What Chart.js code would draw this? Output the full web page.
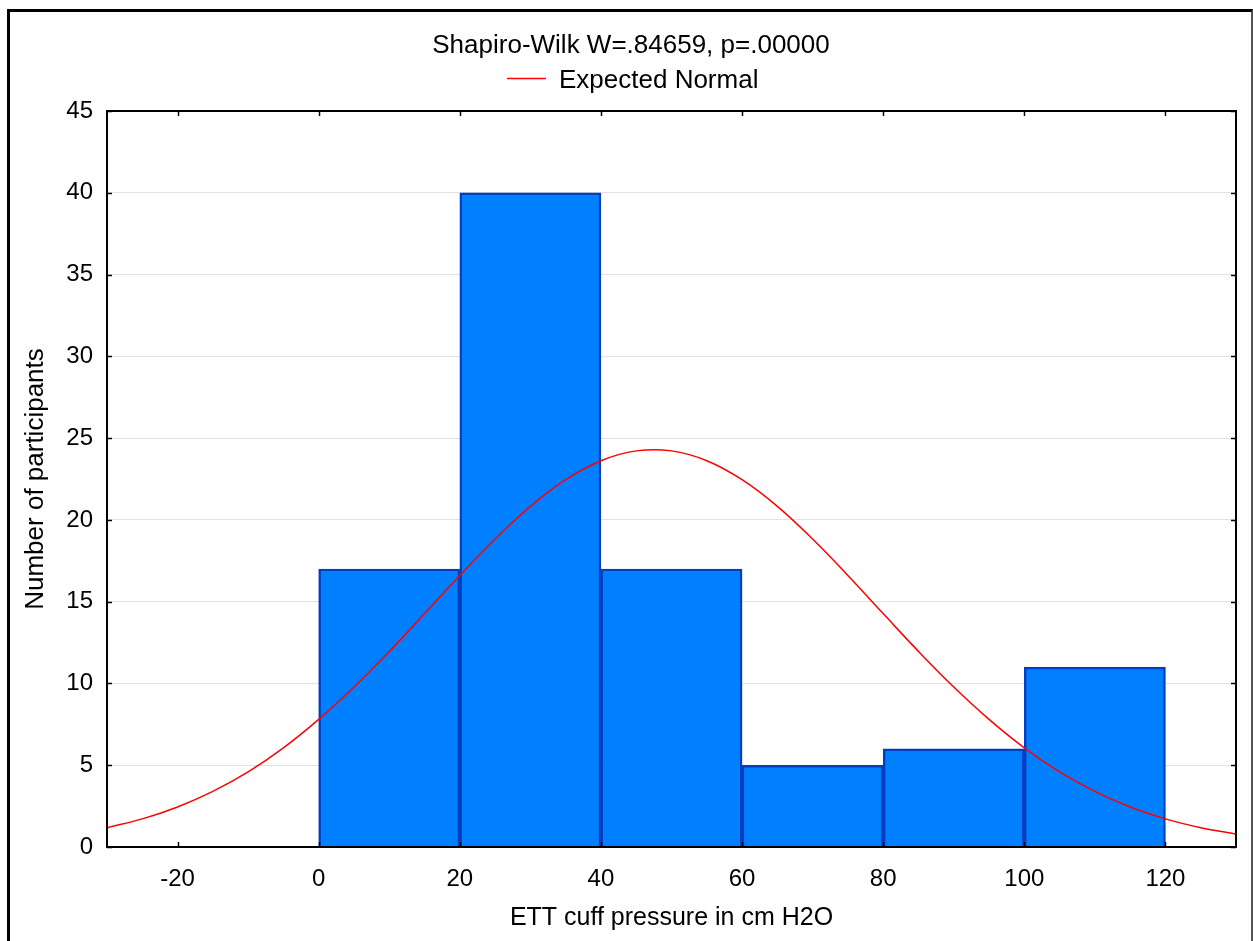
<!DOCTYPE html>
<html>
<head>
<meta charset="utf-8">
<script src="https://cdn.jsdelivr.net/npm/chart.js@4.4.1/dist/chart.umd.min.js"></script>
<style>
  html, body { margin: 0; padding: 0; background: #fff; }
  #wrap { position: relative; width: 1253px; height: 941px; overflow: hidden; }
  #frame { position: absolute; left: 7px; top: 9px; width: 1241px; height: 1000px;
           border-left: 3px solid #000; border-top: 3px solid #000; border-right: 2px solid #555; }
  #chart { position: absolute; left: 0; top: 0; }
</style>
</head>
<body>
<div id="wrap">
  <div id="frame"></div>
  <canvas id="chart" width="1253" height="941"></canvas>
</div>
<script>
/* Data */
const binCenters = [10, 30, 50, 70, 90, 110];
const binCounts = [17, 40, 17, 5, 6, 11];

// expected normal curve, every 5 units
const curveX = [-30, -25, -20, -15, -10, -5, 0, 5, 10, 15, 20, 25, 30, 35, 40, 45, 50,
  55, 60, 65, 70, 75, 80, 85, 90, 95, 100, 105, 110, 115, 120, 125, 130];
const curveY = [1.18, 1.72, 2.45, 3.40, 4.59, 6.06, 7.80, 9.78, 11.96, 14.27, 16.60, 18.83, 20.83,
  22.46, 23.62, 24.22, 24.22, 23.62, 22.46, 20.83, 18.83, 16.60, 14.27, 11.96, 9.78,
  7.80, 6.06, 4.59, 3.40, 2.45, 1.72, 1.18, 0.79];

const xTicks = [-20, 0, 20, 40, 60, 80, 100, 120];
const titleText = 'Shapiro-Wilk W=.84659, p=.00000';
const legendText = 'Expected Normal';
const xTitle = 'ETT cuff pressure in cm H2O';
const yTitle = 'Number of participants';

const FONT = 'Arial, "Liberation Sans", sans-serif';

/* Title, legend, plot frame and inward ticks */
const decor = {
  id: 'decor',
  afterDraw(chart) {
    const { ctx, chartArea: a, scales } = chart;
    ctx.save();
    ctx.fillStyle = '#000';
    ctx.font = '26px ' + FONT;
    ctx.textBaseline = 'middle';
    ctx.textAlign = 'center';
    ctx.fillText(titleText, 631, 46);
    ctx.textAlign = 'left';
    ctx.fillText(legendText, 559, 81);
    ctx.strokeStyle = '#ff0000';
    ctx.lineWidth = 1.5;
    ctx.beginPath(); ctx.moveTo(507, 78.5); ctx.lineTo(546, 78.5); ctx.stroke();

    ctx.strokeStyle = '#000';
    ctx.lineWidth = 2;
    ctx.strokeRect(a.left, a.top, a.right - a.left, a.bottom - a.top);
    ctx.lineWidth = 1.5;
    ctx.beginPath();
    scales.x.ticks.forEach(t => {
      const px = Math.round(scales.x.getPixelForValue(t.value)) + 0.5;
      ctx.moveTo(px, a.top); ctx.lineTo(px, a.top + 5);
      ctx.moveTo(px, a.bottom); ctx.lineTo(px, a.bottom - 5);
    });
    scales.y.ticks.forEach(t => {
      const py = Math.round(scales.y.getPixelForValue(t.value)) + 0.5;
      ctx.moveTo(a.left, py); ctx.lineTo(a.left + 5, py);
      ctx.moveTo(a.right, py); ctx.lineTo(a.right - 5, py);
    });
    ctx.stroke();
    ctx.restore();
  }
};

new Chart(document.getElementById('chart'), {
  data: {
    datasets: [
      {
        type: 'line',
        data: curveX.map((x, i) => ({ x, y: curveY[i] })),
        borderColor: '#ff0000',
        borderWidth: 1.5,
        pointRadius: 0,
        tension: 0.4,
        fill: false,
        order: 0
      },
      {
        type: 'bar',
        data: binCenters.map((x, i) => ({ x, y: binCounts[i] })),
        backgroundColor: '#0080ff',
        borderColor: '#0040c0',
        borderWidth: 2.5,
        barPercentage: 1,
        categoryPercentage: 1,
        order: 1
      }
    ]
  },
  options: {
    responsive: false,
    animation: false,
    layout: { padding: { left: 0, top: 111, right: 17, bottom: 0 } },
    plugins: { legend: { display: false }, tooltip: { enabled: false } },
    scales: {
      x: {
        type: 'linear',
        offset: false,
        min: -30, max: 130,
        afterBuildTicks: s => { s.ticks = xTicks.map(v => ({ value: v })); },
        afterFit: s => { s.height = 94; },
        grid: { display: false, drawTicks: false, offset: false },
        border: { color: '#000', width: 2 },
        ticks: { color: '#000', font: { family: FONT, size: 24 }, padding: 18, maxRotation: 0 },
        title: { display: true, text: xTitle, color: '#000', font: { family: FONT, size: 25 }, padding: { top: 4, bottom: 8 } }
      },
      y: {
        min: 0, max: 45,
        ticks: { stepSize: 5, color: '#000', font: { family: FONT, size: 24 }, padding: 14 },
        afterFit: s => { s.width = 107; },
        grid: { color: '#e2e2e2', lineWidth: 1, drawTicks: false },
        border: { color: '#000', width: 2 },
        title: { display: true, text: yTitle, color: '#000', font: { family: FONT, size: 26 }, padding: { top: 20, bottom: 4 } }
      }
    }
  },
  plugins: [decor]
});
</script>
</body>
</html>
